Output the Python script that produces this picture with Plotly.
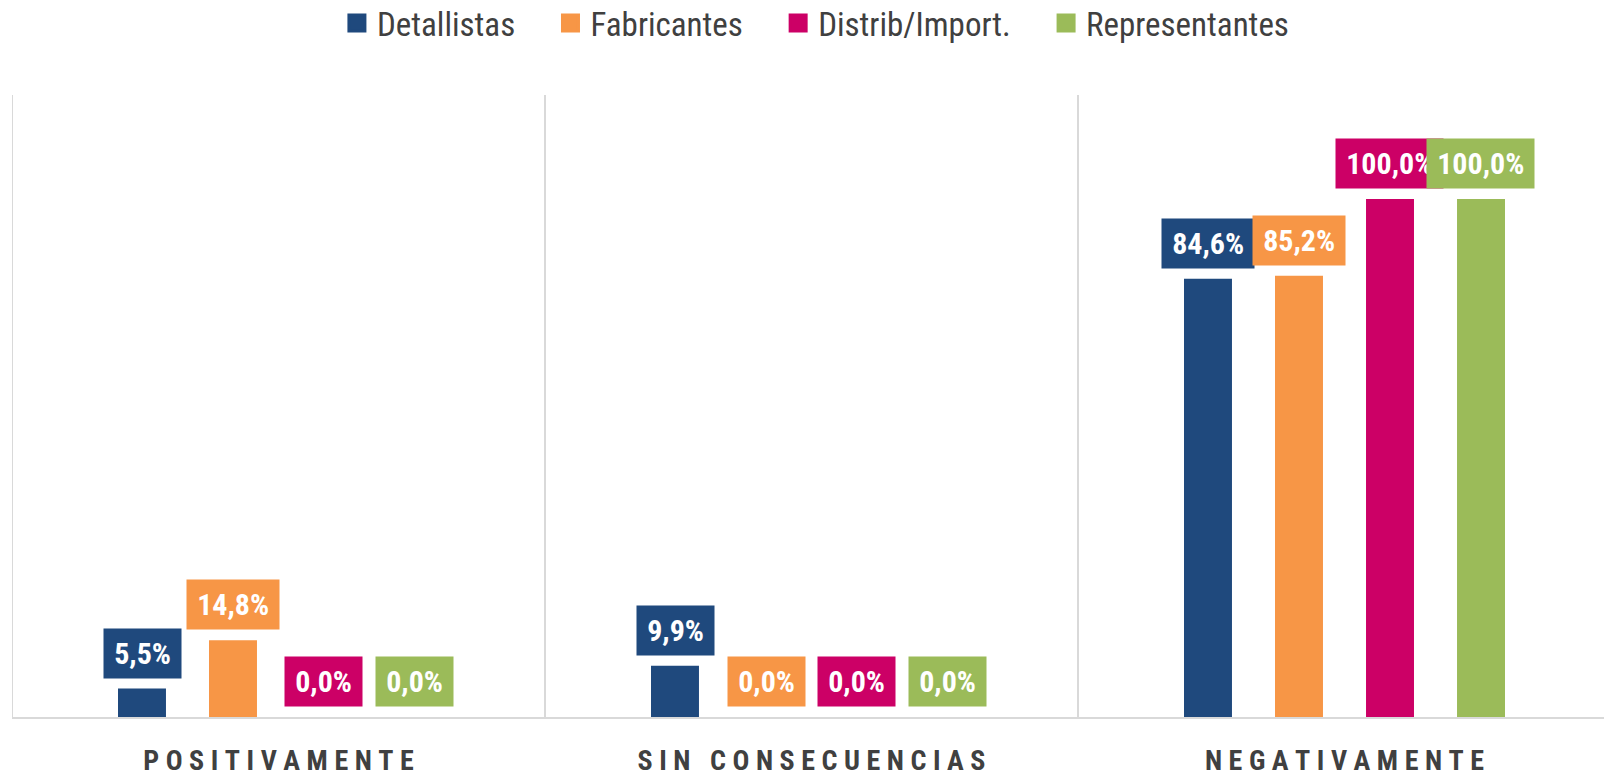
import plotly.graph_objects as go

categories = ["POSITIVAMENTE", "SIN CONSECUENCIAS", "NEGATIVAMENTE"]
series_names = ["Detallistas", "Fabricantes", "Distrib/Import.", "Representantes"]
detallistas = [5.5, 9.9, 84.6]
fabricantes = [14.8, 0.0, 85.2]
distrib = [0.0, 0.0, 100.0]
representantes = [0.0, 0.0, 100.0]
colors = ["#1F497D", "#F79646", "#CC0066", "#9BBB59"]

series_values = [detallistas, fabricantes, distrib, representantes]

NARROW = "Roboto Condensed, Liberation Sans Narrow, Arial Narrow, DejaVu Sans Condensed, sans-serif"
PAD = "\u00a0" * 4
HAIR = "\u200a"
GAP = "\u2005"

def spaced(s):
    return GAP.join(list(s))

fig = go.Figure()
for name, vals, col in zip(series_names, series_values, colors):
    fig.add_trace(go.Bar(
        x=list(range(len(categories))), y=vals, name=name,
        marker=dict(color=col, line=dict(width=0)),
        hoverinfo="skip", showlegend=False, legendgroup=name,
    ))
# legend entries (larger square swatches)
for name, col in zip(series_names, colors):
    fig.add_trace(go.Scatter(
        x=[None], y=[None], mode="markers", name=name + PAD, legendgroup=name,
        marker=dict(symbol="square", size=16, color=col, line=dict(color=col, width=3)),
        hoverinfo="skip",
    ))

slot = 0.1707
annotations = []
for j, (vals, col) in enumerate(zip(series_values, colors)):
    for i, v in enumerate(vals):
        annotations.append(dict(
            x=i + (j - 1.5) * slot, y=v, xref="x", yref="y",
            text=HAIR + "<b>" + f"{v:.1f}".replace(".", ",") + "%</b>" + HAIR,
            showarrow=False, yanchor="bottom", xanchor="center", yshift=10,
            bgcolor=col, borderpad=7,
            font=dict(family=NARROW, size=30, color="white"),
        ))

shapes = []
for b in [-0.5, 0.5, 1.5]:
    shapes.append(dict(type="line", xref="x", yref="paper", x0=b, x1=b, y0=0, y1=1,
                       line=dict(color="#D9D9D9", width=2)))

fig.update_layout(
    width=1604, height=779,
    margin=dict(l=12, r=0, t=95, b=62, autoexpand=False),
    paper_bgcolor="white", plot_bgcolor="white",
    barmode="group", bargap=0.317, bargroupgap=0.473,
    showlegend=True,
    legend=dict(orientation="h", x=0.5144, xanchor="center", y=1 - 23 / 779, yref="container",
                yanchor="middle",
                font=dict(family=NARROW, size=33, color="#404040"),
                itemwidth=30, tracegroupgap=0),
    xaxis=dict(
        range=[-0.5, -0.5 + 1592 / 533],
        tickmode="array", tickvals=list(range(len(categories))),
        ticktext=["<b>" + spaced(c) + "</b>" for c in categories],
        tickfont=dict(family=NARROW, size=28, color="#404040"),
        showgrid=False, zeroline=False, showline=True, linecolor="#D9D9D9", linewidth=2,
        ticks="", ticklabelstandoff=17, automargin=False,
    ),
    yaxis=dict(range=[0, 120.1], visible=False, showgrid=False, zeroline=False, automargin=False),
    annotations=annotations,
    shapes=shapes,
)

fig.write_html("out.html", config={"displayModeBar": False},
               post_script="document.body.style.margin='0';document.body.style.overflow='hidden';")
